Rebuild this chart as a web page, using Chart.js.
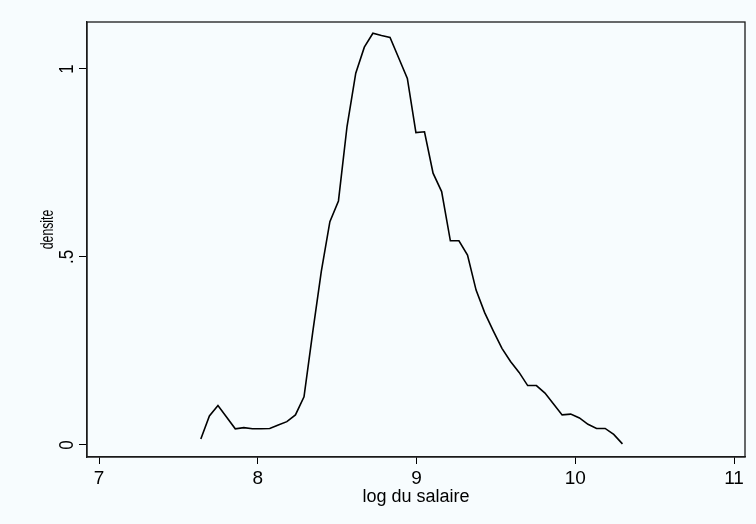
<!DOCTYPE html>
<html>
<head>
<meta charset="utf-8">
<script src="https://cdn.jsdelivr.net/npm/chart.js@4"></script>
<style>
  html, body { margin: 0; padding: 0; background: #f7fcfe; }
  #wrap { width: 756px; height: 524px; }
</style>
</head>
<body>
<div id="wrap"><canvas id="chart" width="756" height="524"></canvas></div>
<script>
// kernel density points (log du salaire, densite)
const logSalaire = [
  7.641, 7.695, 7.749, 7.804, 7.858, 7.912, 7.966, 8.020, 8.075, 8.129,
  8.183, 8.237, 8.291, 8.346, 8.400, 8.454, 8.508, 8.562, 8.617, 8.671,
  8.725, 8.779, 8.833, 8.887, 8.942, 8.996, 9.050, 9.104, 9.158, 9.213,
  9.267, 9.321, 9.375, 9.429, 9.484, 9.538, 9.592, 9.646, 9.700, 9.755,
  9.809, 9.863, 9.917, 9.971, 10.026, 10.080, 10.134, 10.188, 10.242, 10.297
];
const densite = [
  0.016, 0.077, 0.105, 0.074, 0.043, 0.046, 0.043, 0.043, 0.044, 0.053,
  0.062, 0.080, 0.128, 0.300, 0.462, 0.594, 0.649, 0.847, 0.989, 1.058,
  1.095, 1.089, 1.084, 1.030, 0.975, 0.831, 0.833, 0.723, 0.674, 0.543,
  0.543, 0.505, 0.412, 0.352, 0.303, 0.257, 0.222, 0.193, 0.158, 0.158,
  0.138, 0.109, 0.080, 0.082, 0.072, 0.055, 0.044, 0.044, 0.028, 0.003
];
const xTicks = [7, 8, 9, 10, 11];
const yTicks = [0, 0.5, 1];
const yTickLabels = ["0", ".5", "1"];
const yTitle = "densite";

const font = "'Liberation Sans', Arial, sans-serif";

// box around the plot, rotated y tick labels and the (narrow) y title
const framePlugin = {
  id: "frame",
  afterDraw(chart) {
    const ctx = chart.ctx;
    const a = chart.chartArea;
    ctx.save();
    ctx.strokeStyle = "#1a1a1a";
    ctx.lineWidth = 1.3;
    ctx.strokeRect(a.left, a.top, a.right - a.left, a.bottom - a.top);

    const ys = chart.scales.y;
    ctx.fillStyle = "#000";
    ctx.font = "20px " + font;
    ctx.textAlign = "center";
    ctx.textBaseline = "alphabetic";
    yTicks.forEach((v, i) => {
      ctx.save();
      ctx.translate(72.5, ys.getPixelForValue(v));
      ctx.rotate(-Math.PI / 2);
      ctx.scale(0.85, 1);
      ctx.fillText(yTickLabels[i], 0, 0);
      ctx.restore();
    });

    // stata puts the title a little above the .5 tick here
    ctx.font = "18px " + font;
    ctx.translate(53, 229.5);
    ctx.rotate(-Math.PI / 2);
    ctx.scale(0.68, 1);
    ctx.fillText(yTitle, 0, 0);
    ctx.restore();
  },
};

new Chart(document.getElementById("chart"), {
  type: "line",
  data: {
    datasets: [
      {
        data: logSalaire.map((x, i) => ({ x: x, y: densite[i] })),
        borderColor: "#000",
        borderWidth: 1.6,
        pointRadius: 0,
        tension: 0,
        fill: false,
      },
    ],
  },
  options: {
    responsive: false,
    animation: false,
    layout: { padding: { top: 22, right: 11, left: 0, bottom: 0 } },
    plugins: { legend: { display: false }, tooltip: { enabled: false } },
    scales: {
      x: {
        type: "linear",
        min: 6.924,
        max: 11.069,
        afterBuildTicks: (scale) => {
          scale.ticks = xTicks.map((v) => ({ value: v }));
        },
        afterFit: (scale) => {
          scale.height = 67;
        },
        ticks: {
          color: "#000",
          font: { family: font, size: 19 },
          padding: 3,
          maxRotation: 0,
          callback: (v) => String(v),
        },
        grid: { drawOnChartArea: false, drawTicks: true, tickLength: 7, color: "#000", lineWidth: 1 },
        border: { display: true, color: "#1a1a1a", width: 1.3 },
        title: {
          display: true,
          text: "log du salaire",
          color: "#000",
          font: { family: font, size: 18 },
          padding: { top: 0, bottom: 16 },
        },
      },
      y: {
        type: "linear",
        min: -0.032,
        max: 1.125,
        afterBuildTicks: (scale) => {
          scale.ticks = yTicks.map((v) => ({ value: v }));
        },
        afterFit: (scale) => {
          scale.width = 87;
        },
        ticks: { display: false },
        grid: { drawOnChartArea: false, drawTicks: true, tickLength: 8, color: "#000", lineWidth: 1 },
        border: { display: true, color: "#1a1a1a", width: 1.3 },
        title: { display: false },
      },
    },
  },
  plugins: [framePlugin],
});
</script>
</body>
</html>
